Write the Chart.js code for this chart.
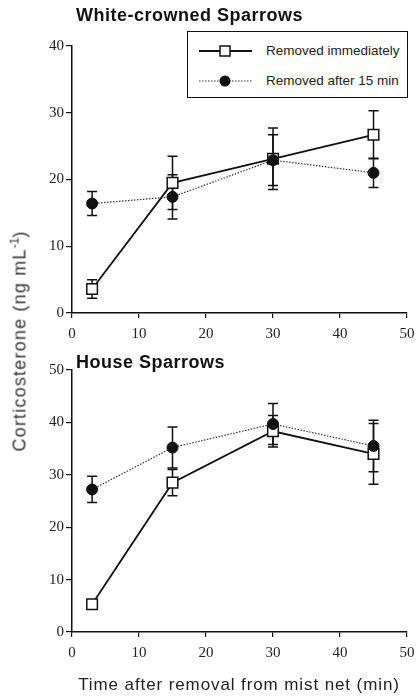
<!DOCTYPE html>
<html><head><meta charset="utf-8">
<script src="https://cdn.jsdelivr.net/npm/chart.js@4"></script>
<style>
body{margin:0;background:#fff;width:416px;height:697px;position:relative;overflow:hidden;font-family:"Liberation Sans",Arial,sans-serif;color:#111}
canvas{position:absolute;left:0}
.ttl{position:absolute;font-weight:bold;font-size:18px;letter-spacing:0.5px;line-height:1;white-space:nowrap}
#ylab{position:absolute;left:20px;top:341px;transform:translate(-50%,-50%) rotate(-90deg);font-size:18px;letter-spacing:1.2px;white-space:nowrap;color:#333;font-weight:normal}
#ylab sup{font-size:12px;vertical-align:7px;line-height:0;letter-spacing:0}
#xlab{position:absolute;left:239px;top:685px;transform:translate(-50%,-50%);font-size:17px;letter-spacing:0.9px;white-space:nowrap;color:#222}
#legend{position:absolute;left:187px;top:31px;width:219px;height:65px;border:1.5px solid #111;background:#fff;box-sizing:content-box}
.lrow{position:absolute;left:0;height:20px;width:219px}
.lrow svg{position:absolute;left:10px;top:0}
.lrow span{position:absolute;left:78px;top:2px;font-size:13.5px;white-space:nowrap;color:#222}
</style></head>
<body>
<canvas id="c1" width="416" height="345" style="top:0;width:416px;height:345px"></canvas>
<canvas id="c2" width="416" height="352" style="top:345px;width:416px;height:352px"></canvas>
<div class="ttl" style="left:76px;top:6px">White-crowned Sparrows</div>
<div class="ttl" style="left:76px;top:353px">House Sparrows</div>
<div id="ylab">Corticosterone (ng mL<sup>-1</sup>)</div>
<div id="xlab">Time after removal from mist net (min)</div>
<div id="legend">
  <div class="lrow" style="top:9px"><svg width="56" height="20"><line x1="1" y1="10" x2="54" y2="10" stroke="#111" stroke-width="1.8"/><rect x="22" y="5" width="10" height="10" fill="#fff" stroke="#111" stroke-width="1.5"/></svg><span>Removed immediately</span></div>
  <div class="lrow" style="top:39px"><svg width="56" height="20"><line x1="1" y1="10" x2="54" y2="10" stroke="#333" stroke-width="1.2" stroke-dasharray="1.5 1.5"/><circle cx="27" cy="10" r="5.5" fill="#111"/></svg><span>Removed after 15 min</span></div>
</div>
<script>
// ---- data ----
const times = [3, 15, 30, 45];
const xTicks = [0, 10, 20, 30, 40, 50];
const seriesNames = ["Removed immediately", "Removed after 15 min"];
// White-crowned Sparrows
const wcsImmediate = [3.6, 19.5, 23.1, 26.7];
const wcsImmediateErr = [1.4, 4.0, 4.6, 3.6];
const wcsAfter15 = [16.4, 17.4, 22.9, 21.0];
const wcsAfter15Err = [1.8, 3.3, 3.8, 2.2];
// House Sparrows
const hsImmediate = [5.3, 28.5, 38.3, 34.0];
const hsImmediateErr = [0, 2.5, 3.0, 5.8];
const hsAfter15 = [27.2, 35.2, 39.7, 35.5];
const hsAfter15Err = [2.5, 3.9, 3.9, 4.9];

const pts = (xs, ys) => xs.map((x, i) => ({x: x, y: ys[i]}));

const errorBars = {
  id: 'errorBars',
  beforeDatasetsDraw(chart) {
    const ctx = chart.ctx, xs = chart.scales.x, ys = chart.scales.y;
    ctx.save();
    ctx.strokeStyle = '#111';
    ctx.lineWidth = 1.5;
    chart.data.datasets.forEach(ds => {
      (ds.err || []).forEach((e, i) => {
        if (!e) return;
        const p = ds.data[i];
        const px = xs.getPixelForValue(p.x);
        const y1 = ys.getPixelForValue(p.y + e), y2 = ys.getPixelForValue(p.y - e);
        ctx.beginPath();
        ctx.moveTo(px, y1); ctx.lineTo(px, y2);
        ctx.moveTo(px - 5, y1); ctx.lineTo(px + 5, y1);
        ctx.moveTo(px - 5, y2); ctx.lineTo(px + 5, y2);
        ctx.stroke();
      });
    });
    ctx.restore();
  }
};

function makeChart(id, immY, immE, aftY, aftE, yMax, pad, xH) {
  const tickFont = {family: '"Liberation Serif","Times New Roman",serif', size: 15};
  return new Chart(document.getElementById(id), {
    type: 'line',
    data: {
      datasets: [
        {label: seriesNames[1], data: pts(times, aftY), err: aftE,
         borderColor: '#333', borderWidth: 1.2, borderDash: [1.5, 1.5],
         pointStyle: 'circle', pointRadius: 5.5, pointBackgroundColor: '#111', pointBorderColor: '#111', pointBorderWidth: 1,
         tension: 0, fill: false},
        {label: seriesNames[0], data: pts(times, immY), err: immE,
         borderColor: '#111', borderWidth: 1.8,
         pointStyle: 'rect', pointRadius: 7.5, pointBackgroundColor: '#fff', pointBorderColor: '#111', pointBorderWidth: 1.5,
         tension: 0, fill: false}
      ]
    },
    options: {
      responsive: false, animation: false, devicePixelRatio: 1,
      layout: {padding: pad},
      plugins: {legend: {display: false}, title: {display: false}, tooltip: {enabled: false}},
      scales: {
        x: {type: 'linear', min: 0, max: 50,
            afterBuildTicks: s => { s.ticks = xTicks.map(v => ({value: v})); },
            afterFit: s => { s.height = xH; s.paddingLeft = 0; s.paddingRight = 0; },
            ticks: {font: tickFont, color: '#222', padding: 7, maxRotation: 0},
            grid: {display: true, drawOnChartArea: false, drawTicks: true, tickLength: 5, color: '#111', lineWidth: 1.2},
            border: {display: true, color: '#111', width: 1.5},
            title: {display: false}},
        y: {type: 'linear', min: 0, max: yMax,
            ticks: {stepSize: 10, font: tickFont, color: '#222', padding: 2},
            afterFit: s => { s.width = 72; s.paddingTop = 0; s.paddingBottom = 0; },
            grid: {display: true, drawOnChartArea: false, drawTicks: true, tickLength: 6, color: '#111', lineWidth: 1.2},
            border: {display: true, color: '#111', width: 1.5}}
      }
    },
    plugins: [errorBars]
  });
}
makeChart('c1', wcsImmediate, wcsImmediateErr, wcsAfter15, wcsAfter15Err, 40, {left: 0, right: 8, top: 46, bottom: 0}, 32);
makeChart('c2', hsImmediate, hsImmediateErr, hsAfter15, hsAfter15Err, 50, {left: 0, right: 8, top: 25, bottom: 0}, 65);
</script>
</body></html>
